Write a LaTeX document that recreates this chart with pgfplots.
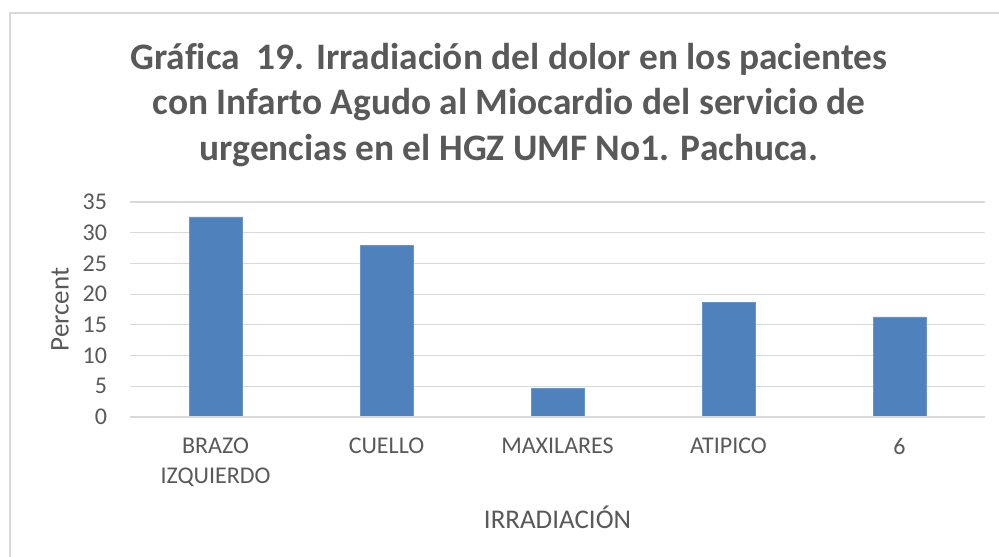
\documentclass[border=0pt]{standalone}
\usepackage{fontspec}
\setmainfont{Carlito}[Ligatures=NoCommon]
\usepackage{pgfplots}
\pgfplotsset{compat=1.18}
\definecolor{barblue}{HTML}{4F81BD}
\definecolor{txtgray}{HTML}{595959}
\definecolor{gridgray}{HTML}{D9D9D9}
\begin{document}
\begin{tikzpicture}
\path[use as bounding box] (0,0) rectangle (499.5pt,278pt);
\fill[white] (0,0) rectangle (499.5pt,278pt);
\draw[gridgray, line width=0.8pt] (5pt,-10pt) rectangle (510pt,271.5pt);
\node[align=center, font=\fontsize{18.7}{22.7}\selectfont\bfseries, text=txtgray] at (254.5pt,225.5pt)
  {Gráfica\ \ 19. Irradiación del dolor en los pacientes\\con Infarto Agudo al Miocardio del servicio de\\urgencias en el HGZ UMF No1. Pachuca.};
\begin{axis}[
  at={(65pt,69.5pt)}, anchor=south west,
  scale only axis, width=427.5pt, height=107.5pt,
  xmin=-0.5, xmax=4.5, ymin=0, ymax=35,
  ytick={0,5,...,35},
  xtick=data,
  xticklabels={{BRAZO\\IZQUIERDO},CUELLO,MAXILARES,ATIPICO,6},
  xticklabel style={align=center, font=\fontsize{12}{15}\selectfont, text=txtgray},
  yticklabel style={font=\fontsize{12}{14}\selectfont, text=txtgray},
  /pgf/number format/assume math mode=true,
  ymajorgrids, grid style={gridgray, line width=0.6pt},
  axis line style={draw=none},
  axis x line*=bottom, axis y line*=left,
  major tick length=0pt,
  xtick pos=bottom, ytick pos=left,
  yticklabel shift=8pt, xticklabel shift=7pt,
  clip=false,
]
\addplot[ybar, bar width=26.5pt, fill=barblue, draw=barblue!85!white] coordinates {
  (0,32.56) (1,27.91) (2,4.65) (3,18.60) (4,16.28)
};
\draw[gridgray, line width=0.8pt] (axis cs:-0.5,0) -- (axis cs:4.5,0);
\node[font=\fontsize{13.5}{16}\selectfont, text=txtgray, anchor=center, yshift=-50pt] at (rel axis cs:0.5,0) {IRRADIACIÓN};
\node[font=\fontsize{13.5}{16}\selectfont, text=txtgray, anchor=center, xshift=-35pt, rotate=90] at (rel axis cs:0,0.5) {Percent};
\end{axis}
\end{tikzpicture}
\end{document}
